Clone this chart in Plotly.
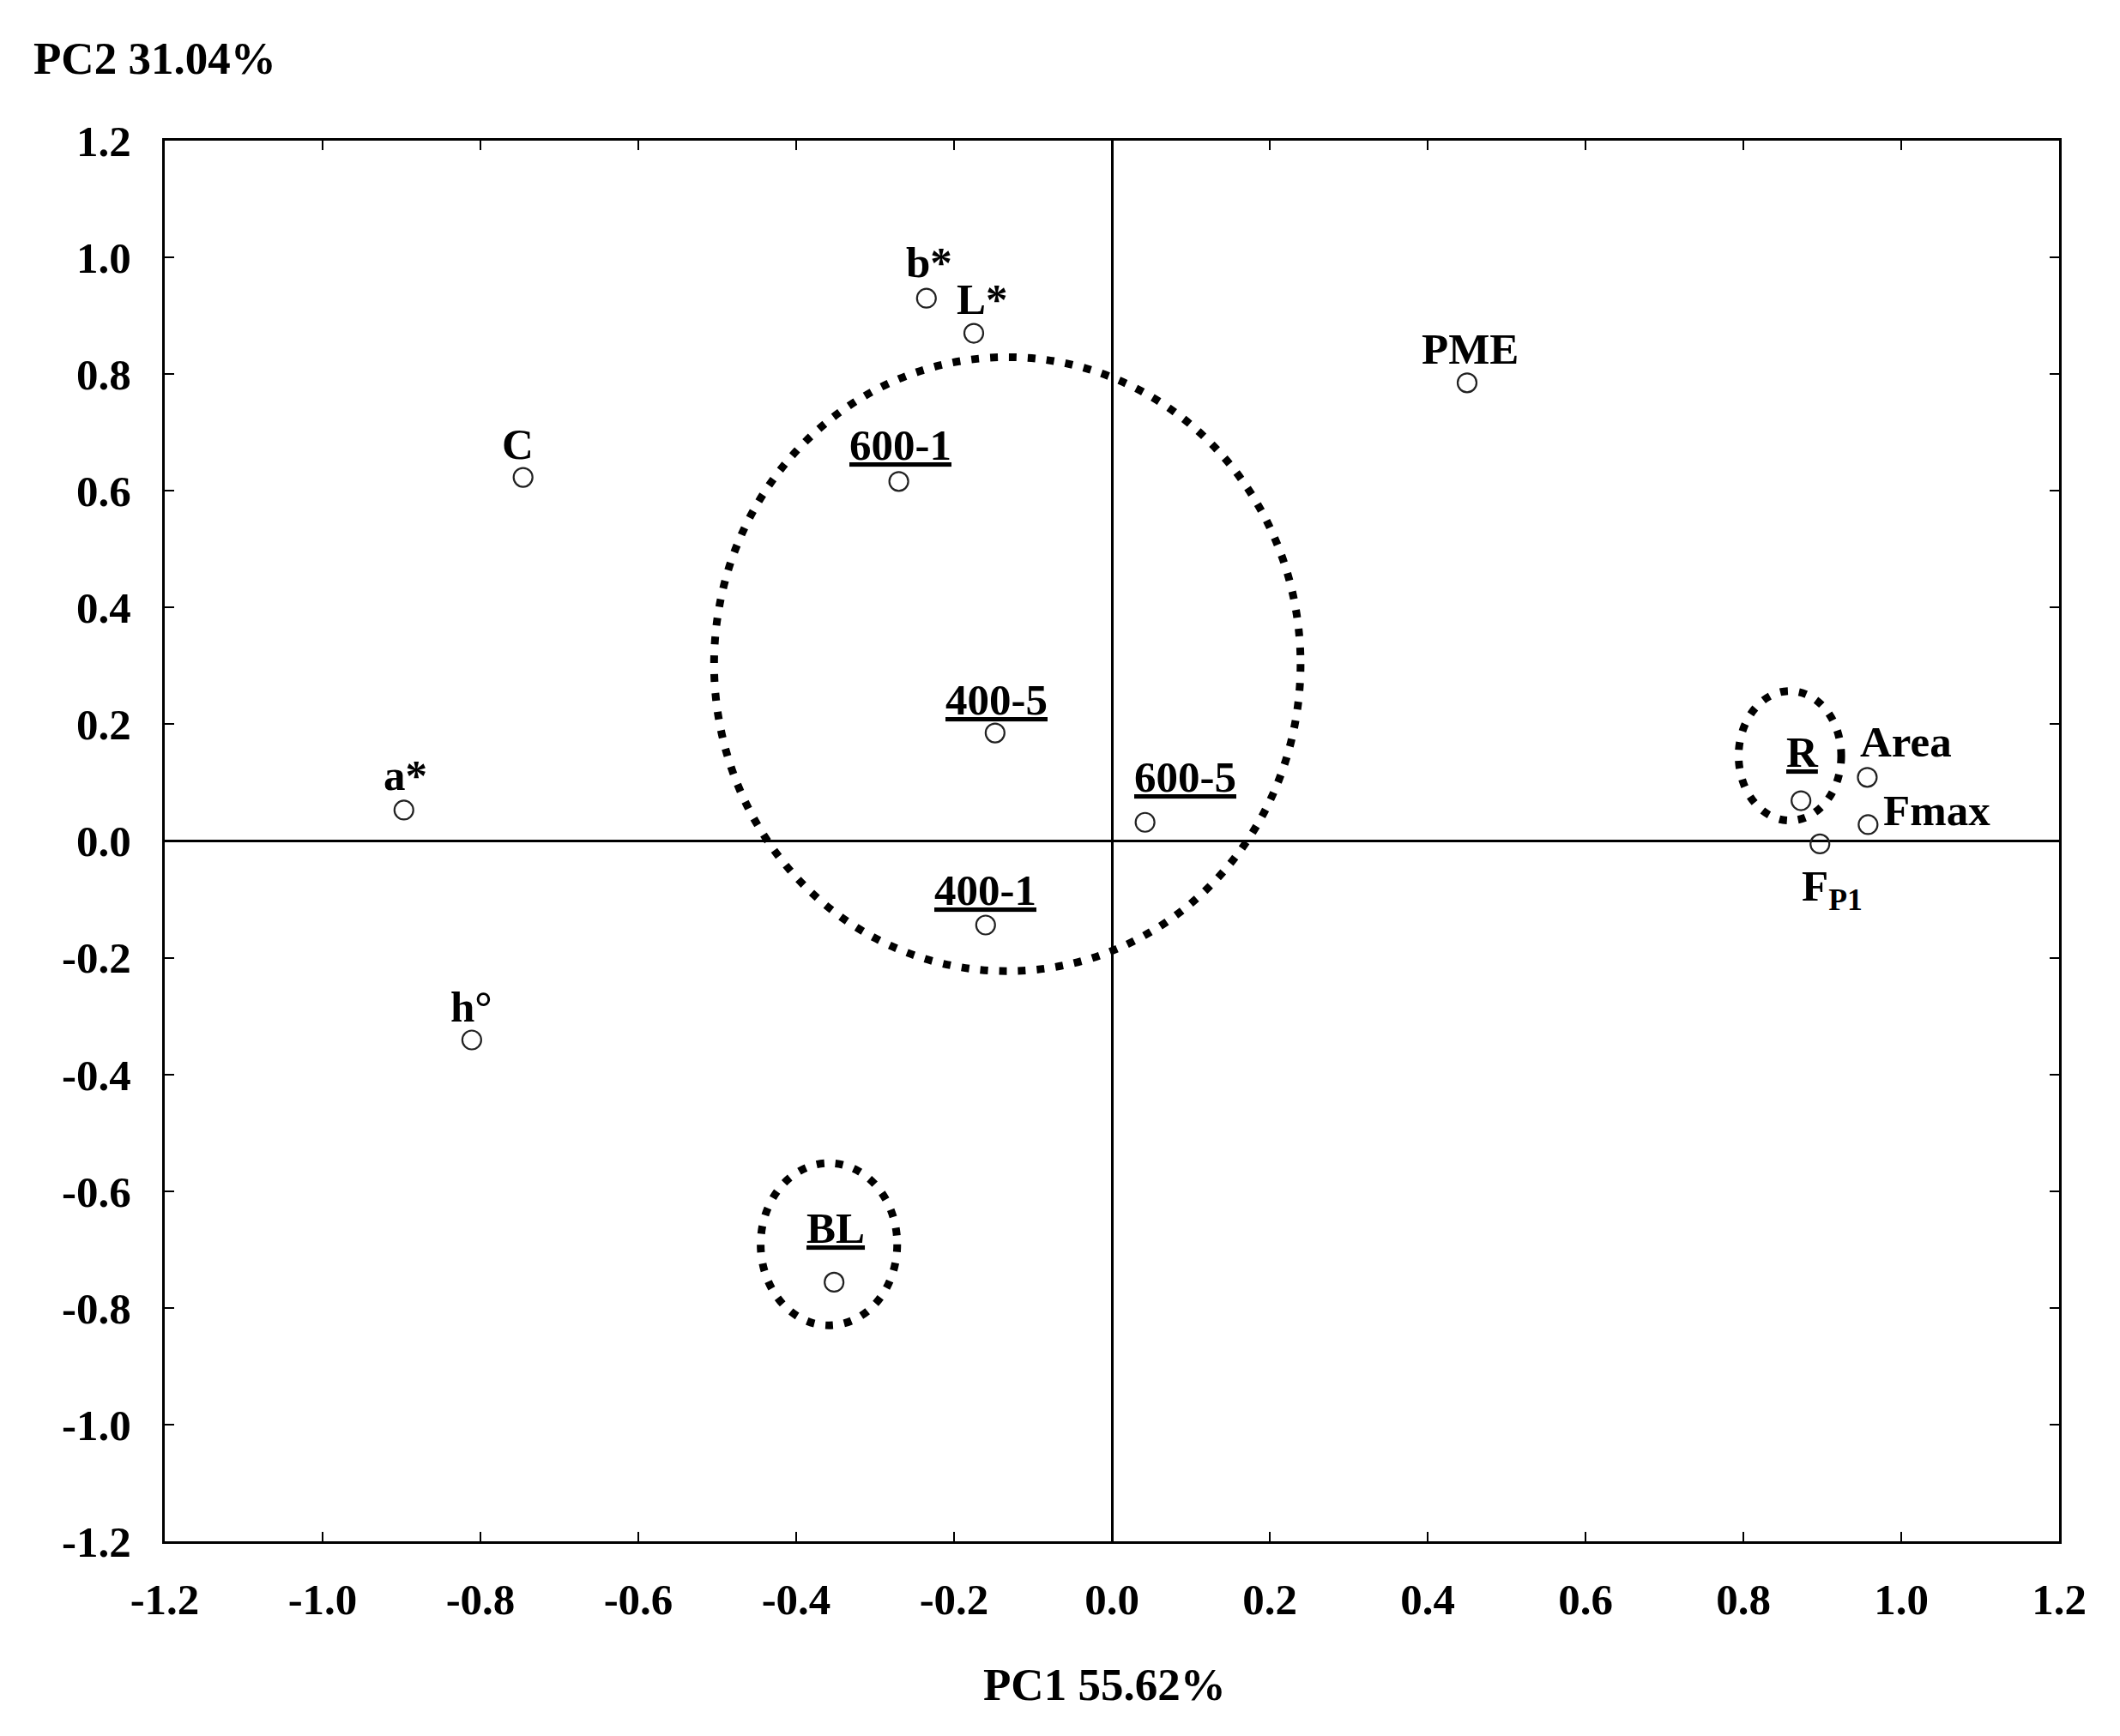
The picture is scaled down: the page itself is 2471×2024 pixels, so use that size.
import plotly.graph_objects as go

# ---- data ----
labels = ["b*", "L*", "PME", "C", "600-1", "400-5", "a*", "600-5", "400-1",
          "h°", "BL", "R", "Area", "Fmax", "F<sub>P1</sub>"]
pc1 = [-0.235, -0.175, 0.450, -0.746, -0.270, -0.148, -0.897, 0.042, -0.160,
       -0.811, -0.352, 0.873, 0.957, 0.958, 0.897]
pc2 = [0.930, 0.870, 0.785, 0.623, 0.616, 0.185, 0.053, 0.032, -0.144,
       -0.341, -0.756, 0.069, 0.109, 0.028, -0.005]
underlined = [False, False, False, False, True, True, False, True, True,
              False, True, True, False, False, False]

# group ellipses (x0, x1, y0, y1)
ell_x0 = [-0.504, 0.794, -0.445]
ell_x1 = [0.239, 0.924, -0.272]
ell_y0 = [-0.223, 0.035, -0.830]
ell_y1 = [0.829, 0.257, -0.552]

tick_vals = [-1.2, -1.0, -0.8, -0.6, -0.4, -0.2, 0.0, 0.2, 0.4, 0.6, 0.8, 1.0, 1.2]
tick_text = ["-1.2", "-1.0", "-0.8", "-0.6", "-0.4", "-0.2", "0.0", "0.2", "0.4",
             "0.6", "0.8", "1.0", "1.2"]

# label offsets in pixels (dx, dy; dy positive = up)
lab_dx = [3, 10, 3, -6, 2, 2, 2, 47, 0, 0, 2, 2, 45, 80, 14]
lab_dy = [42, 40, 39, 39, 42, 39, 40, 53, 40, 39, 63, 57, 41, 16, -53]

FONT = "Liberation Serif, Times New Roman, serif"

fig = go.Figure()
fig.add_trace(go.Scatter(
    x=pc1, y=pc2, mode="markers",
    marker=dict(symbol="circle-open", size=22, color="#222222", line=dict(width=2.2)),
    hoverinfo="skip", showlegend=False,
))

for lab, x, y, u, dx, dy in zip(labels, pc1, pc2, underlined, lab_dx, lab_dy):
    txt = f"<b>{lab}</b>"
    if u:
        txt = f"<u>{txt}</u>"
    fig.add_annotation(x=x, y=y, xref="x", yref="y", text=txt, showarrow=False,
                       xshift=dx, yshift=dy, xanchor="center", yanchor="middle",
                       font=dict(family=FONT, size=51, color="black"))

for x0, x1, y0, y1 in zip(ell_x0, ell_x1, ell_y0, ell_y1):
    fig.add_shape(type="circle", xref="x", yref="y", x0=x0, x1=x1, y0=y0, y1=y1,
                  line=dict(color="black", width=9, dash="9px,13px"))

axis_common = dict(
    range=[-1.2, 1.2], tickvals=tick_vals, ticktext=tick_text,
    showgrid=False, zeroline=True, zerolinecolor="black", zerolinewidth=2.5,
    showline=True, linecolor="black", linewidth=3, mirror="allticks",
    ticks="inside", ticklen=11, tickwidth=2, tickcolor="black",
    tickfont=dict(family=FONT, size=51, color="black", weight="bold"),
)

fig.update_layout(
    width=2471, height=2024,
    margin=dict(l=184, r=79, t=156, b=235),
    paper_bgcolor="white", plot_bgcolor="white",
    xaxis=dict(**axis_common, ticklabelstandoff=21),
    yaxis=dict(**axis_common, ticklabelstandoff=26),
    showlegend=False,
)

fig.add_annotation(x=-0.005, y=1.059, xref="paper", yref="paper", showarrow=False,
                   text="<b>PC2 31.04%</b>", xanchor="center", yanchor="middle",
                   font=dict(family=FONT, size=53, color="black"))
fig.add_annotation(x=0.496, y=-0.102, xref="paper", yref="paper", showarrow=False,
                   text="<b>PC1 55.62%</b>", xanchor="center", yanchor="middle",
                   font=dict(family=FONT, size=53, color="black"))

fig.write_html("out.html")
